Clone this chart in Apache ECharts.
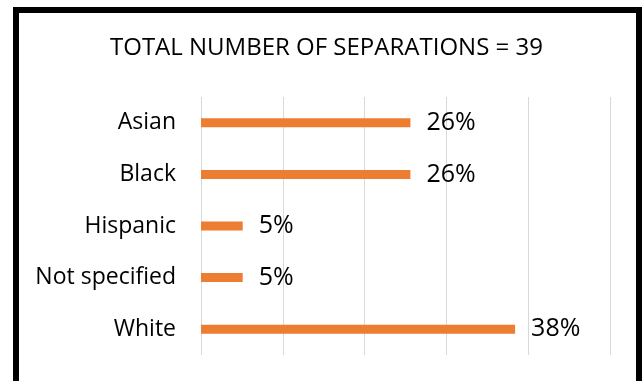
<!DOCTYPE html>
<html>
<head>
<meta charset="utf-8">
<script src="https://cdn.jsdelivr.net/npm/echarts@6/dist/echarts.min.js"></script>
<style>
html,body{margin:0;padding:0;background:#fff;}
#chart{width:642px;height:381px;}
</style>
</head>
<body>
<div id="chart"></div>
<script>
var titleText = 'TOTAL NUMBER OF SEPARATIONS = 39';
var categories = ['Asian', 'Black', 'Hispanic', 'Not specified', 'White'];
var values = [25.6, 25.6, 5.1, 5.1, 38.4];
var xMin = 0, xMax = 50, xInterval = 10;

var chart = echarts.init(document.getElementById('chart'));
chart.setOption({
  backgroundColor: '#ffffff',
  animation: false,
  title: {
    text: titleText,
    left: 110,
    top: 36,
    padding: 0,
    textStyle: {fontFamily: 'Open Sans', fontSize: 24, fontWeight: 'normal', color: '#000'}
  },
  graphic: [{
    type: 'rect',
    shape: {x: 16, y: 10, width: 623, height: 400},
    style: {fill: 'none', stroke: '#000', lineWidth: 6}
  }],
  grid: {left: 201, right: 32, top: 97, bottom: 26},
  xAxis: {
    type: 'value', min: xMin, max: xMax, interval: xInterval,
    axisLabel: {show: false}, axisLine: {show: false}, axisTick: {show: false},
    splitLine: {show: true, lineStyle: {color: '#d9d9d9', width: 1}}
  },
  yAxis: {
    type: 'category', data: categories, inverse: true,
    axisLine: {show: false}, axisTick: {show: false},
    axisLabel: {margin: 25, fontFamily: 'Open Sans', fontSize: 23, color: '#000'}
  },
  series: [{
    type: 'bar', data: values, barWidth: 9,
    itemStyle: {color: '#ED7D31'},
    label: {
      show: true, position: 'right', distance: 16,
      fontFamily: 'Open Sans', fontSize: 25, color: '#000',
      formatter: function (p) { return Math.round(p.value) + '%'; }
    }
  }]
});
</script>
</body>
</html>
